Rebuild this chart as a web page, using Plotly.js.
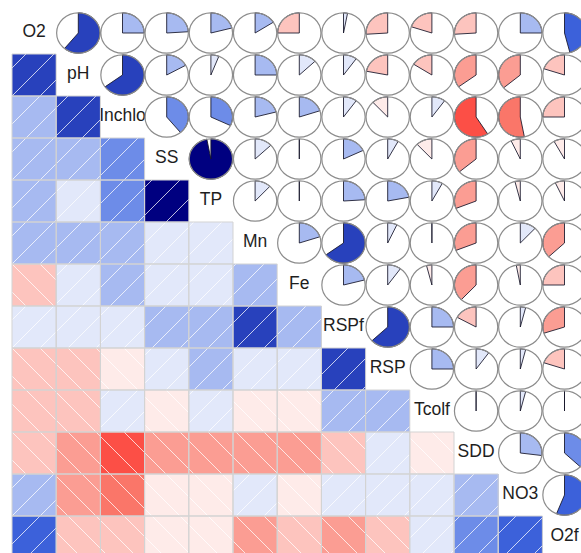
<!DOCTYPE html>
<html><head><meta charset="utf-8">
<script src="https://cdn.plot.ly/plotly-3.0.1.min.js"></script>
<style>html,body{margin:0;padding:0;background:#fff;overflow:hidden}</style>
</head><body><div id="chart" style="width:581px;height:553px"></div>
<script>
// Variables (diagonal labels)
const vars = ["O2","pH","Inchlo","SS","TP","Mn","Fe","RSPf","RSP","Tcolf","SDD","NO3","O2f"];
// Correlations of each variable with the variables that follow it
const r_O2     = [0.61, 0.25, 0.24, 0.21, 0.16, -0.25, 0.03, -0.26, -0.20, -0.26, 0.25, 0.46];
const r_pH     = [0.65, 0.17, 0.06, 0.25, 0.13, 0.10, -0.22, -0.16, -0.35, -0.36, -0.20];
const r_Inchlo = [0.39, 0.32, 0.21, 0.20, 0.10, -0.12, 0.10, -0.59, -0.53, -0.25];
const r_SS     = [0.97, 0.13, 0.01, 0.18, 0.08, -0.12, -0.36, -0.07, -0.08];
const r_TP     = [0.12, 0.01, 0.24, 0.22, 0.08, -0.31, -0.04, -0.07];
const r_Mn     = [0.20, 0.65, 0.07, -0.01, -0.31, 0.12, -0.37];
const r_Fe     = [0.21, 0.10, -0.04, -0.38, -0.03, -0.25];
const r_RSPf   = [0.63, 0.25, -0.17, 0.04, -0.30];
const r_RSP    = [0.25, 0.10, 0.04, -0.20];
const r_Tcolf  = [-0.01, 0.04, 0.02];
const r_SDD    = [0.27, 0.37];
const r_NO3    = [0.56];
const upper = [r_O2, r_pH, r_Inchlo, r_SS, r_TP, r_Mn, r_Fe, r_RSPf, r_RSP, r_Tcolf, r_SDD, r_NO3];

const n = vars.length;
const R = [];
for (let i = 0; i < n; i++) { R.push(new Array(n).fill(null)); R[i][i] = 1; }
upper.forEach((row, i) => row.forEach((v, k) => { const j = i + 1 + k; R[i][j] = v; R[j][i] = v; }));

// corrgram palette: colorRampPalette(c("red","salmon","white","royalblue","navy"))(14)
const stops = [[255,0,0],[250,128,114],[255,255,255],[65,105,225],[0,0,128]];
const NC = 14;
const pal = [];
for (let k = 0; k < NC; k++) {
  const t = k / (NC - 1) * 4;
  const s = Math.min(Math.floor(t), 3), f = t - s;
  const c = stops[s].map((v, q) => Math.round(v + (stops[s + 1][q] - v) * f));
  pal.push(`rgb(${c[0]},${c[1]},${c[2]})`);
}
function binOf(r) { let b = Math.ceil((r + 1) / (2 / NC)) - 1; return Math.max(0, Math.min(NC - 1, b)); }
const colorscale = [];
for (let k = 0; k < NC; k++) { colorscale.push([k / NC, pal[k]]); colorscale.push([(k + 1) / NC, pal[k]]); }

// lower triangle shading
const zLower = R.map((row, j) => row.map((v, i) => (j > i ? v : null)));
const idx = vars.map((_, i) => i);

// hatch lines (aspect of a cell in screen units)
const W = 44.2, H = 42, S = 28;
const hx = [], hy = [];
for (let j = 1; j < n; j++) for (let i = 0; i < j; i++) {
  const r = R[j][i]; if (!r) continue;
  const X0 = i * W, X1 = (i + 1) * W, Y0 = j * H, Y1 = (j + 1) * H;
  if (r > 0) {
    for (let c = Math.ceil((X0 + Y0) / S) * S; c < X1 + Y1; c += S) {
      const xa = Math.max(X0, c - Y1), xb = Math.min(X1, c - Y0);
      if (xb - xa < 0.5) continue;
      hx.push(xa / W - 0.5, xb / W - 0.5, null);
      hy.push((c - xa) / H - 0.5, (c - xb) / H - 0.5, null);
    }
  } else {
    for (let c = Math.ceil((X0 - Y1) / S) * S; c < X1 - Y0; c += S) {
      const xa = Math.max(X0, c + Y0), xb = Math.min(X1, c + Y1);
      if (xb - xa < 0.5) continue;
      hx.push(xa / W - 0.5, xb / W - 0.5, null);
      hy.push((xa - c) / H - 0.5, (xb - c) / H - 0.5, null);
    }
  }
}

const shapes = [];
// cell borders in lower triangle
for (let j = 1; j < n; j++) for (let i = 0; i < j; i++) {
  shapes.push({type: 'rect', xref: 'x', yref: 'y', x0: i - 0.5, x1: i + 0.5, y0: j - 0.5, y1: j + 0.5,
    line: {color: 'rgb(211,211,211)', width: 1}, fillcolor: 'rgba(0,0,0,0)'});
}
// pies in upper triangle
const rx = 0.49, ry = 0.48;
for (let i = 0; i < n; i++) for (let j = i + 1; j < n; j++) {
  const r = R[i][j], cx = j, cy = i;
  const seg = Math.round(60 * Math.abs(r));
  if (seg > 0) {
    const a0 = Math.PI / 2, a1 = Math.PI / 2 - 2 * Math.PI * r;
    let p = '';
    for (let s = 0; s < seg; s++) {
      const a = seg === 1 ? a0 : a0 + (a1 - a0) * s / (seg - 1);
      const x = cx + rx * Math.cos(a), y = cy - ry * Math.sin(a);
      p += (s === 0 ? 'M' : 'L') + x.toFixed(4) + ',' + y.toFixed(4) + ' ';
    }
    p += 'L' + cx + ',' + cy + ' Z';
    shapes.push({type: 'path', xref: 'x', yref: 'y', path: p, fillcolor: pal[binOf(r)],
      line: {color: 'rgba(20,20,40,0.85)', width: 1}});
  }
  shapes.push({type: 'circle', xref: 'x', yref: 'y', x0: cx - rx, x1: cx + rx, y0: cy - ry, y1: cy + ry,
    line: {color: 'rgb(140,140,140)', width: 1.2}, fillcolor: 'rgba(0,0,0,0)'});
}

const traces = [
  {type: 'heatmap', x: idx, y: idx, z: zLower, zmin: -1, zmax: 1, colorscale: colorscale,
   showscale: false, hoverinfo: 'skip', xgap: 0, ygap: 0},
  {type: 'scatter', mode: 'lines', x: hx, y: hy, line: {color: 'rgba(255,255,255,0.75)', width: 1},
   hoverinfo: 'skip', connectgaps: false},
  {type: 'scatter', mode: 'text', x: idx, y: idx, text: vars, textposition: 'middle center',
   textfont: {family: 'Liberation Sans, Arial, sans-serif', size: 17.5, color: '#1e1e1e'}, hoverinfo: 'skip'}
];

const layout = {
  width: 581, height: 553, margin: {l: 0, r: 0, t: 0, b: 0},
  paper_bgcolor: '#fff', plot_bgcolor: '#fff', showlegend: false,
  xaxis: {range: [-0.5 - 12 / W, -0.5 + 569 / W], visible: false, fixedrange: true},
  yaxis: {range: [-0.5 + 541 / H, -0.5 - 12 / H], visible: false, fixedrange: true},
  shapes: shapes
};
Plotly.newPlot('chart', traces, layout, {displayModeBar: false, staticPlot: true});
</script></body></html>
